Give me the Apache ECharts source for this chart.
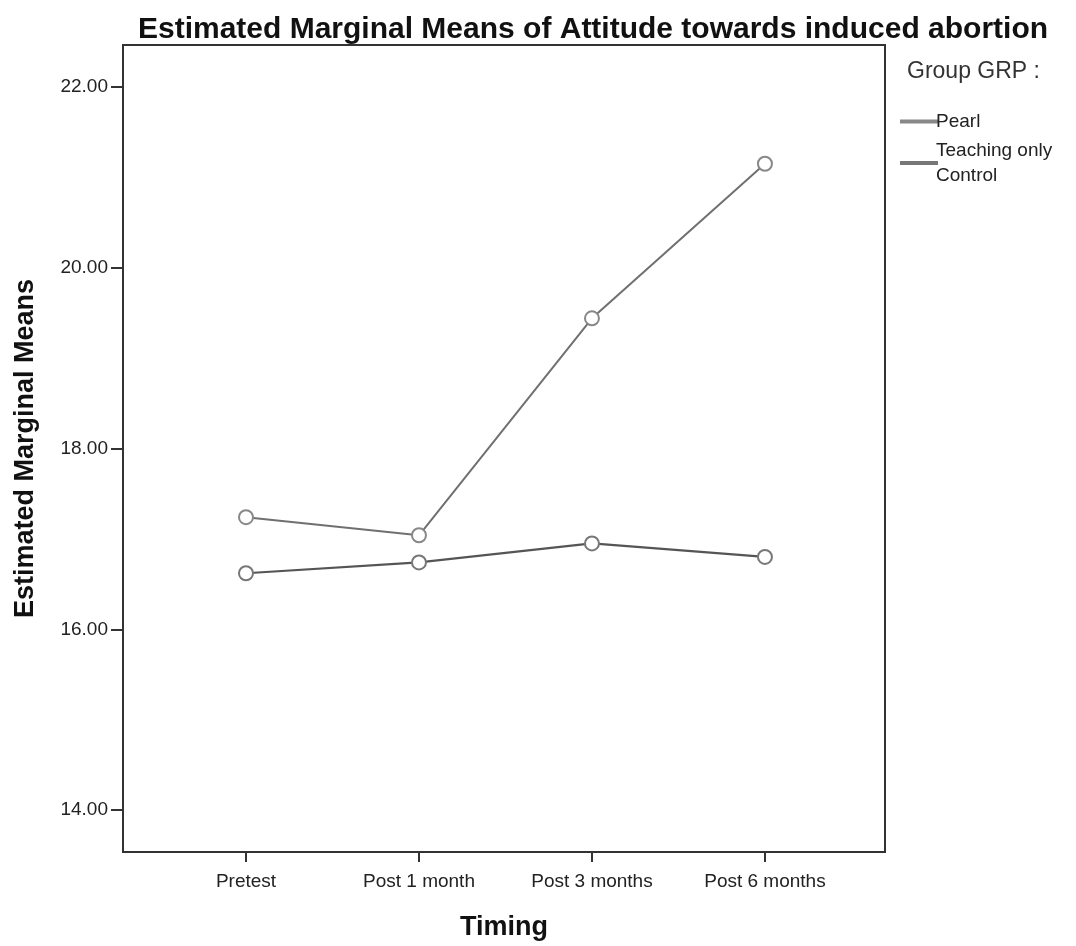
<!DOCTYPE html>
<html>
<head>
<meta charset="utf-8">
<script src="https://cdn.jsdelivr.net/npm/echarts@6/dist/echarts.min.js"></script>
<style>html,body{margin:0;padding:0;background:#fff;}#c{width:1076px;height:946px;}</style>
</head>
<body>
<div id="c"></div>
<script>
const categories = ['Pretest', 'Post 1 month', 'Post 3 months', 'Post 6 months'];
const pearl = [17.24, 17.04, 19.44, 21.15];
const control = [16.62, 16.74, 16.95, 16.80];
const yTicks = [14, 16, 18, 20, 22];

const chart = echarts.init(document.getElementById('c'));
const font = 'Liberation Sans, Arial, sans-serif';
chart.setOption({
  backgroundColor: '#fff',
  animation: false,
  title: {
    text: 'Estimated Marginal Means of Attitude towards induced abortion',
    left: 588, top: 10, textAlign: 'center',
    textStyle: { fontFamily: font, fontWeight: 'bold', fontSize: 30, color: '#111' }
  },
  graphic: [
    { type: 'text', left: 907, top: 60, style: { text: 'Group GRP :', font: '23px ' + font, fill: '#333' } }
  ],
  legend: {
    orient: 'vertical', left: 895, top: 104, itemGap: 4,
    itemWidth: 36, itemHeight: 2, icon: 'rect',
    textStyle: { fontFamily: font, fontSize: 19, color: '#222', lineHeight: 25, padding: [0, 0, 0, -6] },
    data: [
      { name: 'Pearl', itemStyle: { color: '#aaa' } },
      { name: 'Teaching only\nControl', itemStyle: { color: '#555' } }
    ]
  },
  grid: { left: 123, right: 191, top: 45, bottom: 94, show: true, borderColor: '#333', borderWidth: 2, backgroundColor: 'transparent' },
  xAxis: {
    type: 'value', min: -0.711, max: 3.694,
    splitLine: { show: false },
    axisLine: { show: true, onZero: false, lineStyle: { color: '#333', width: 2 } },
    axisTick: { show: true, length: 10, customValues: [0, 1, 2, 3], lineStyle: { color: '#333', width: 2 } },
    axisLabel: { customValues: [0, 1, 2, 3], formatter: v => categories[Math.round(v)], fontFamily: font, fontSize: 19, color: '#222', margin: 20 },
    name: 'Timing', nameLocation: 'middle', nameGap: 62,
    nameTextStyle: { fontFamily: font, fontWeight: 'bold', fontSize: 27, color: '#111' }
  },
  yAxis: {
    type: 'value', min: 13.536, max: 22.464,
    splitLine: { show: false },
    axisLine: { show: true, onZero: false, lineStyle: { color: '#333', width: 2 } },
    axisTick: { show: true, length: 12, customValues: yTicks, lineStyle: { color: '#333', width: 2 } },
    axisLabel: { customValues: yTicks, formatter: v => v.toFixed(2), fontFamily: font, fontSize: 19, color: '#222', margin: 15 },
    name: 'Estimated Marginal Means', nameLocation: 'middle', nameGap: 84,
    nameTextStyle: { fontFamily: font, fontWeight: 'bold', fontSize: 27, color: '#111' }
  },
  series: [
    {
      name: 'Pearl', type: 'line',
      data: pearl.map((v, i) => [i, v]),
      symbol: 'emptyCircle', symbolSize: 14,
      lineStyle: { color: '#707070', width: 2 },
      itemStyle: { color: '#888', borderColor: '#888', borderWidth: 1.5 }
    },
    {
      name: 'Teaching only\nControl', type: 'line',
      data: control.map((v, i) => [i, v]),
      symbol: 'emptyCircle', symbolSize: 14,
      lineStyle: { color: '#555', width: 2.2 },
      itemStyle: { color: '#777', borderColor: '#777', borderWidth: 1.5 }
    }
  ]
});
</script>
</body>
</html>
